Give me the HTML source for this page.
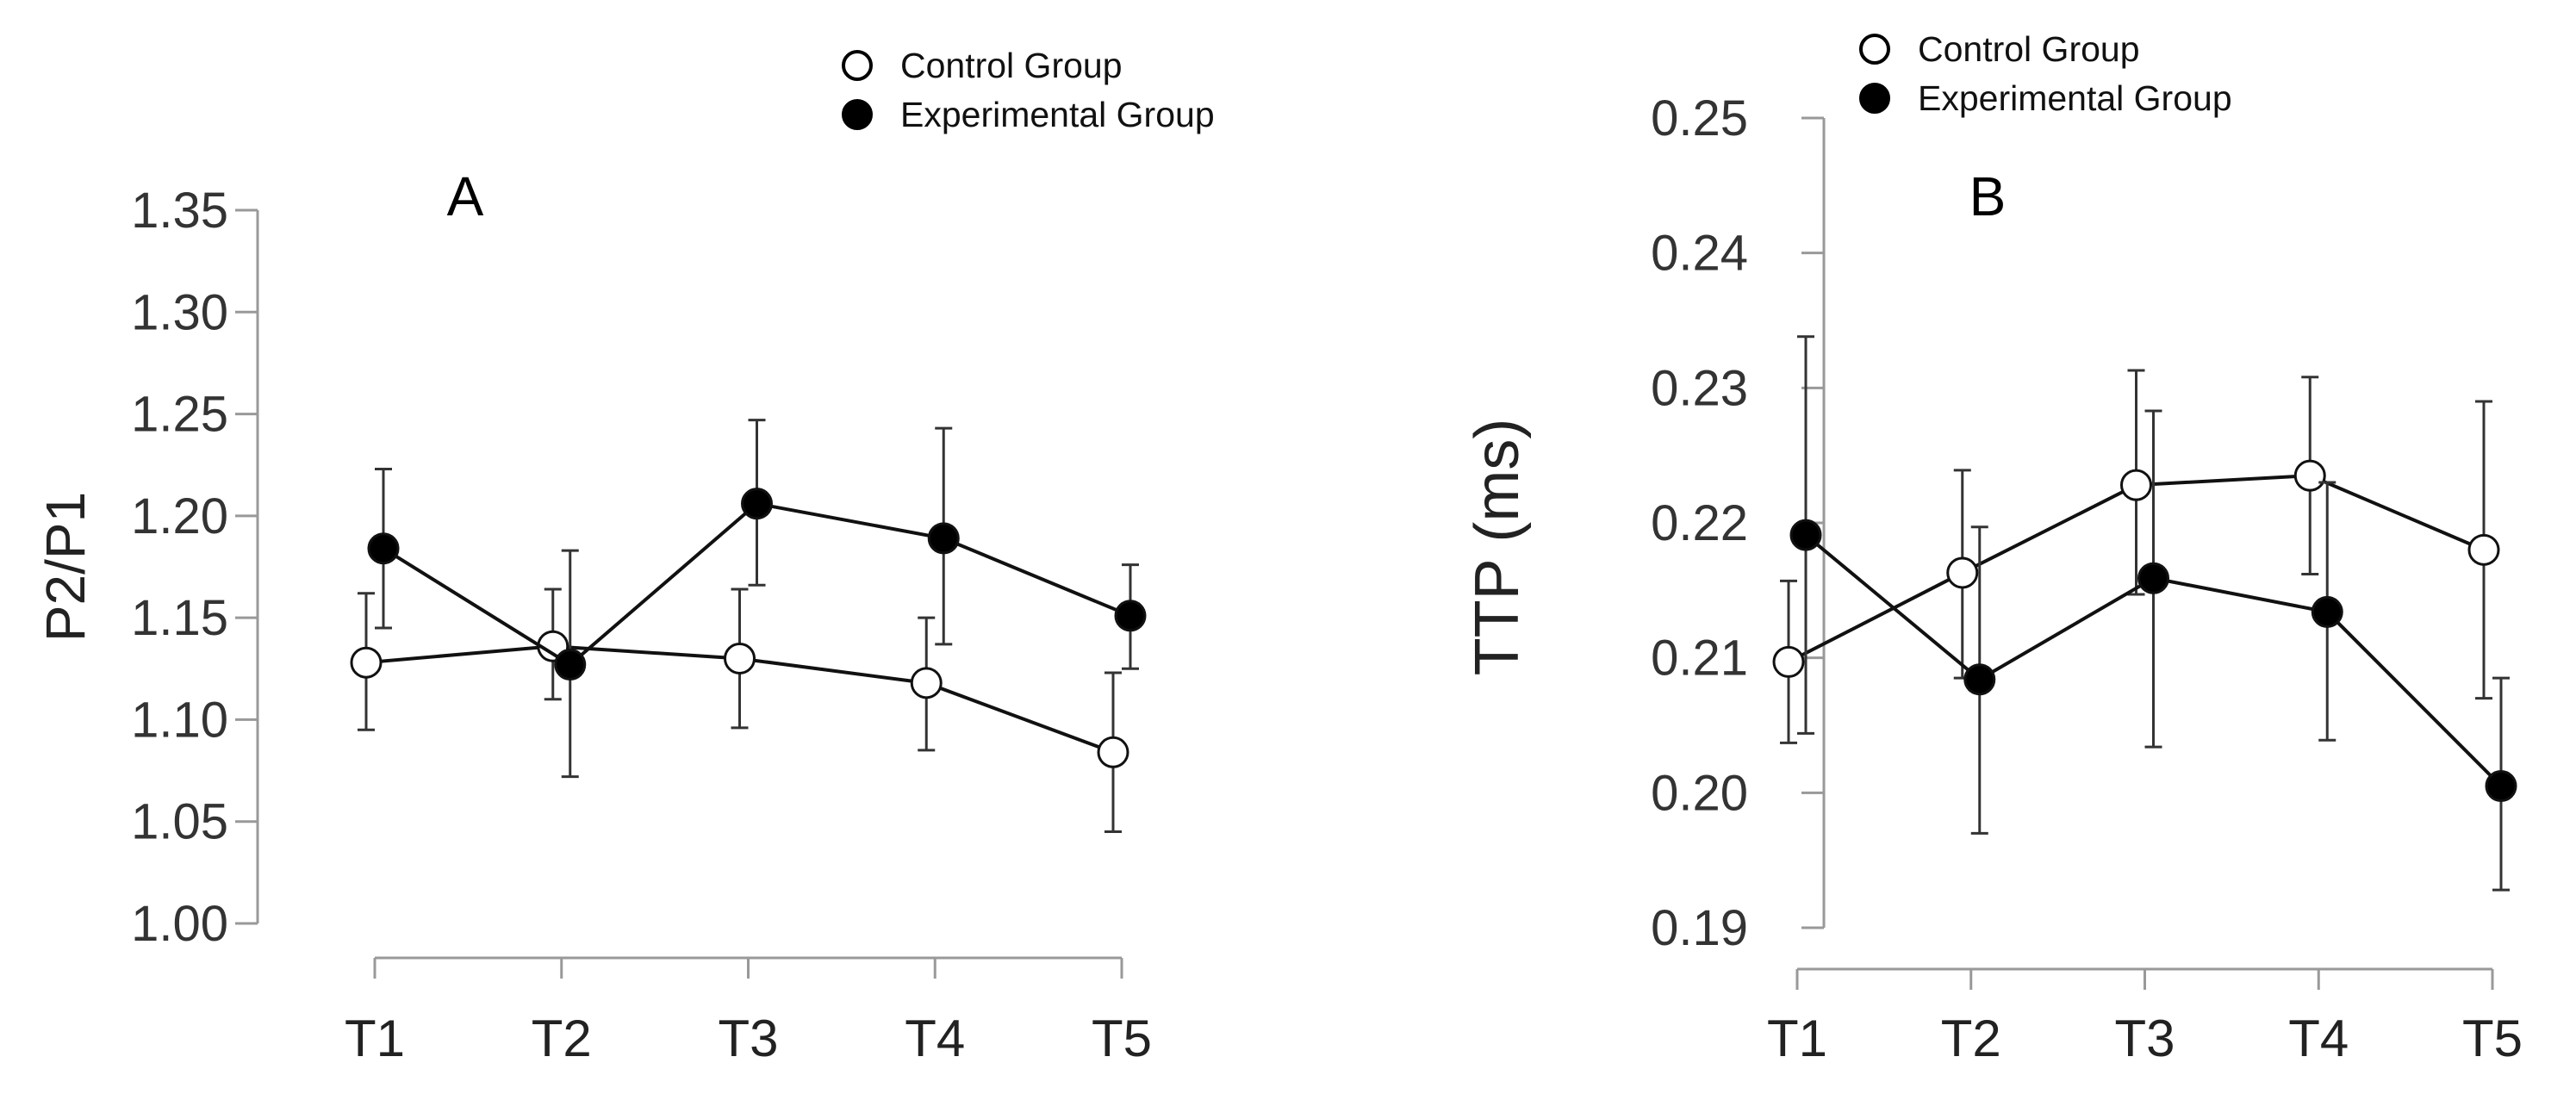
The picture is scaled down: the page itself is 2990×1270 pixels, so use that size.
<!DOCTYPE html>
<html><head><meta charset="utf-8"><style>
html,body{margin:0;padding:0;background:#fff;}
svg{display:block;font-family:"Liberation Sans",Arial,sans-serif;}
</style></head><body>
<svg id="chart" width="2990" height="1270" viewBox="0 0 2990 1270"></svg>
<script>
const categories = ["T1","T2","T3","T4","T5"];
const aTicks = [1.00,1.05,1.10,1.15,1.20,1.25,1.30,1.35];
const aCtrl = [1.128,1.136,1.130,1.118,1.084];
const aCtrlLo = [1.095,1.110,1.096,1.085,1.045];
const aCtrlHi = [1.162,1.164,1.164,1.150,1.123];
const aExp = [1.184,1.127,1.206,1.189,1.151];
const aExpLo = [1.145,1.072,1.166,1.137,1.125];
const aExpHi = [1.223,1.183,1.247,1.243,1.176];
const bTicks = [0.19,0.20,0.21,0.22,0.23,0.24,0.25];
const bCtrl = [0.2097,0.2163,0.2228,0.2235,0.2180];
const bCtrlLo = [0.2037,0.2085,0.2147,0.2162,0.2070];
const bCtrlHi = [0.2157,0.2239,0.2313,0.2308,0.2290];
const bExp = [0.2191,0.2084,0.2159,0.2134,0.2005];
const bExpLo = [0.2044,0.1970,0.2034,0.2039,0.1928];
const bExpHi = [0.2338,0.2197,0.2283,0.2230,0.2085];

const NS="http://www.w3.org/2000/svg";
const svg=document.getElementById('chart');
function mk(tag,attrs,parent,text){const e=document.createElementNS(NS,tag);for(const k in attrs)e.setAttribute(k,attrs[k]);if(text!==undefined)e.textContent=text;(parent||svg).appendChild(e);return e;}

function panel(cfg){
  const g=mk('g',{});
  
  
  const y=v=>cfg.y0+(v-cfg.vmin)/(cfg.vmax-cfg.vmin)*(cfg.y1-cfg.y0);
  const x=i=>cfg.x0+i*(cfg.x1-cfg.x0)/(categories.length-1);
  const ya=mk('line',{x1:cfg.ax,x2:cfg.ax,y1:y(cfg.vmin),y2:y(cfg.vmax),stroke:'#999','stroke-width':3},g);
  
  
  cfg.ticks.forEach(t=>{
    const tl=mk('line',{x1:cfg.ax-26,x2:cfg.ax,y1:y(t),y2:y(t),stroke:'#999','stroke-width':3},g);
    
    
    const tx=mk('text',{x:cfg.ax-cfg.gap,y:y(t)+20,'text-anchor':'end','font-size':58,fill:'#333'},g,t.toFixed(2));
    
    
  });
  const xa=mk('line',{x1:x(0),x2:x(categories.length-1),y1:cfg.xy,y2:cfg.xy,stroke:'#999','stroke-width':3},g);
  
  
  categories.forEach((c,i)=>{
    const tl=mk('line',{x1:x(i),x2:x(i),y1:cfg.xy,y2:cfg.xy+24,stroke:'#999','stroke-width':3},g);
    
    
    const tx=mk('text',{x:x(i),y:1226,'text-anchor':'middle','font-size':60,fill:'#222'},g,c);
    
    
  });
  const yt=mk('text',{x:cfg.ytx,y:cfg.yty,'text-anchor':'middle','font-size':cfg.ytsize,fill:'#222',transform:`rotate(-90 ${cfg.ytx} ${cfg.yty})`},g,cfg.ytitle);
  
  
  const pt=mk('text',{x:cfg.lx,y:250,'text-anchor':'middle','font-size':64,fill:'#000'},g,cfg.letter);
  
  
  function series(vals,lo,hi,off,fill,nm){
    for(let i=0;i<vals.length;i++){
      const xx=x(i)+off;
      const eb=mk('path',{d:`M${xx},${y(lo[i])}V${y(hi[i])}M${xx-10},${y(lo[i])}H${xx+10}M${xx-10},${y(hi[i])}H${xx+10}`,stroke:'#333','stroke-width':3,fill:'none'},g);
      
      
    }
    const ln=mk('polyline',{points:vals.map((v,i)=>`${x(i)+off},${y(v)}`).join(' '),stroke:'#111','stroke-width':4,fill:'none'},g);
    
    
    vals.forEach((v,i)=>{
      const c=mk('circle',{cx:x(i)+off,cy:y(v),r:17,fill:fill,stroke:'#111','stroke-width':3},g);
      
      
    });
  }
  series(cfg.ctrl,cfg.ctrlLo,cfg.ctrlHi,-10,'#fff','control');
  series(cfg.exp,cfg.expLo,cfg.expHi,10,'#000','experimental');
  const lg=mk('g',{},g);
  
  
  [['Control Group','#fff',cfg.legY],['Experimental Group','#000',cfg.legY+57]].forEach(([t,f,yy])=>{
    const e=mk('g',{},lg);
    
    
    mk('circle',{cx:cfg.legX,cy:yy,r:16,fill:f,stroke:'#000','stroke-width':4},e);
    mk('text',{x:cfg.legX+50,y:yy+14,'font-size':41,fill:'#111'},e,t);
  });
}
panel({name:'panel-a',letter:'A',lx:540,ytitle:'P2/P1',ytsize:64,ytx:98,yty:658,ax:299,gap:34,vmin:1.00,vmax:1.35,y0:1072,y1:244,ticks:aTicks,
  x0:435,x1:1302,xy:1112,ctrl:aCtrl,ctrlLo:aCtrlLo,ctrlHi:aCtrlHi,exp:aExp,expLo:aExpLo,expHi:aExpHi,legX:995,legY:76});
panel({name:'panel-b',letter:'B',lx:2307,ytitle:'TTP (ms)',ytsize:72,ytx:1762,yty:635,ax:2117,gap:88,vmin:0.19,vmax:0.25,y0:1077,y1:137,ticks:bTicks,
  x0:2086,x1:2893,xy:1125,ctrl:bCtrl,ctrlLo:bCtrlLo,ctrlHi:bCtrlHi,exp:bExp,expLo:bExpLo,expHi:bExpHi,legX:2176,legY:57});
</script>
</body></html>
